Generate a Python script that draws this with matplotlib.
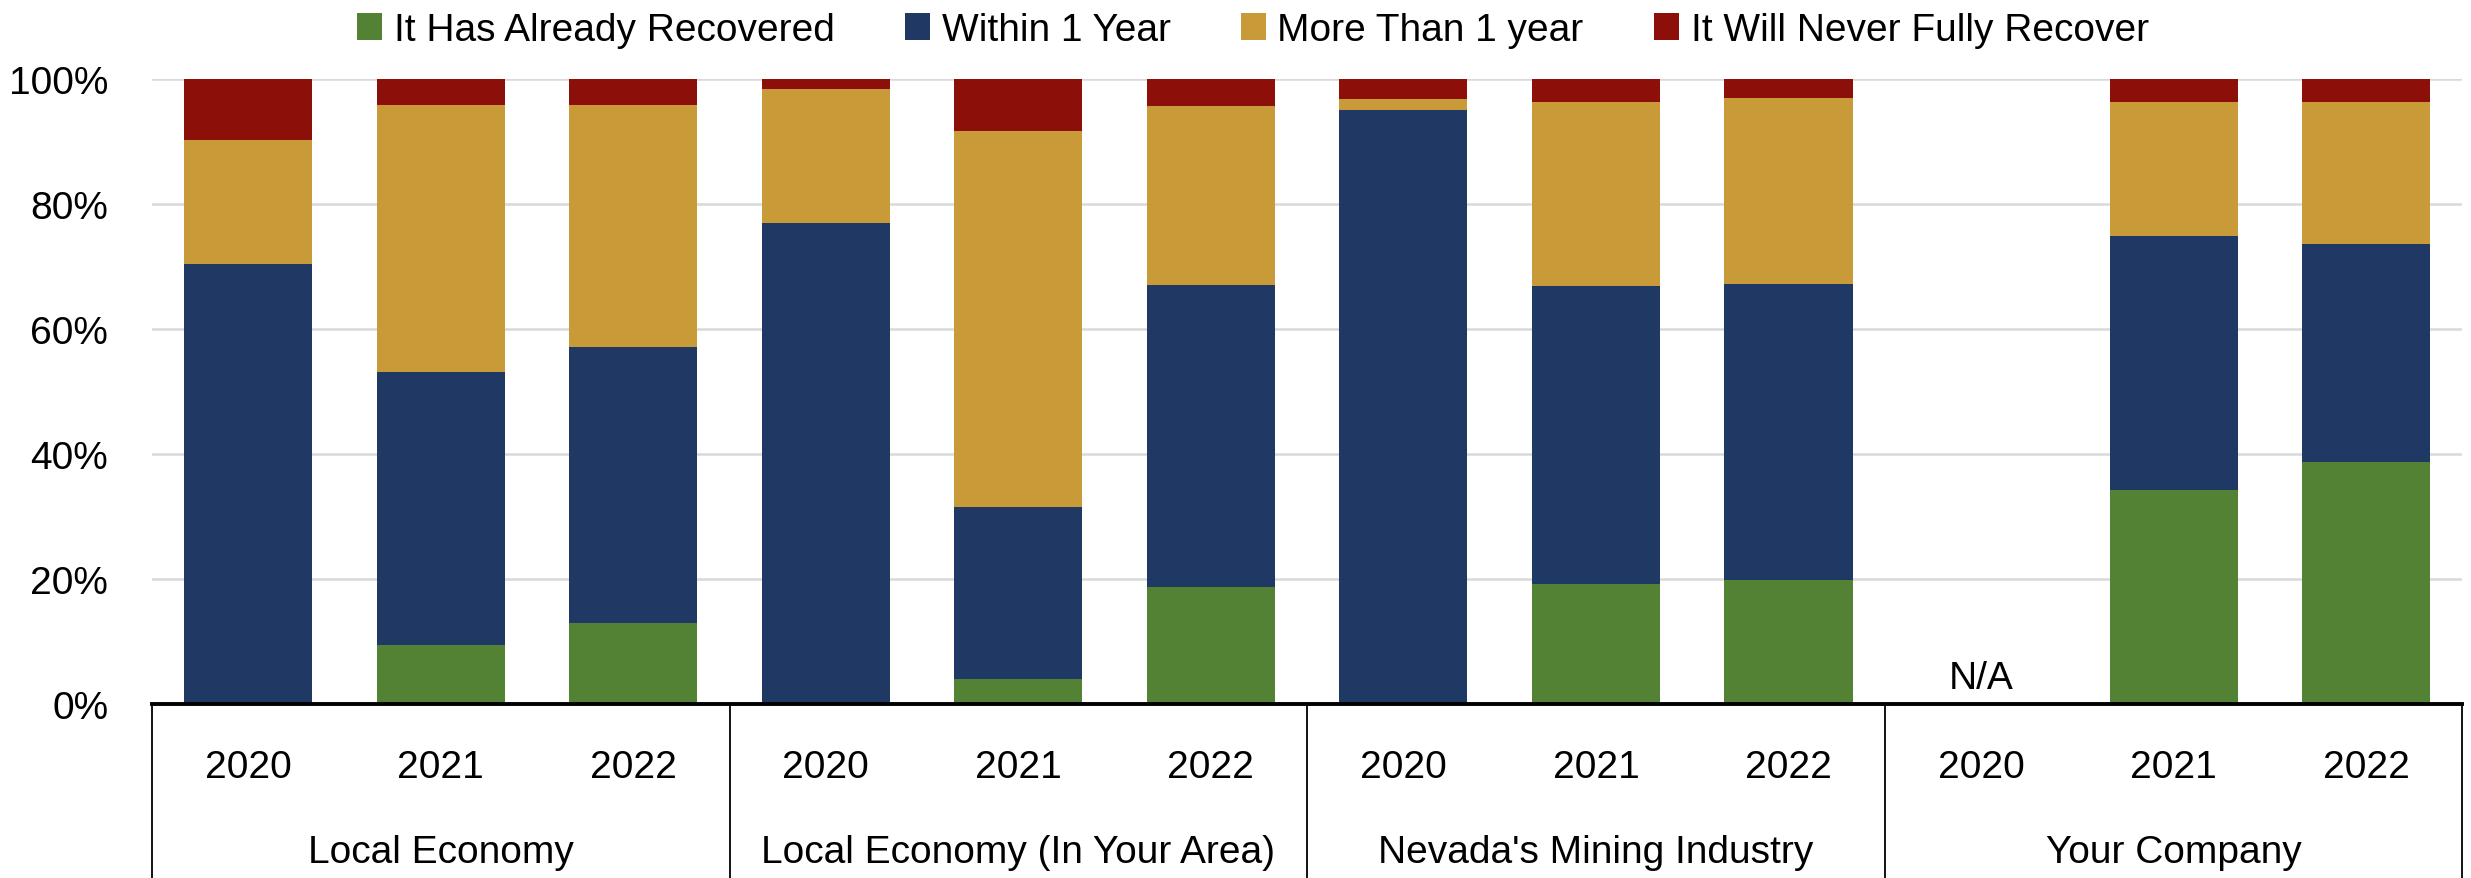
import numpy as np
import matplotlib
matplotlib.use("Agg")
import matplotlib.pyplot as plt
from matplotlib.patches import Patch


# reference uses a narrow Arial; Liberation Sans sized down to keep the text widths
plt.rcParams["font.family"] = ["Liberation Sans Narrow", "Liberation Sans", "DejaVu Sans"]

groups = ["Local Economy", "Local Economy (In Your Area)", "Nevada's Mining Industry", "Your Company"]
years = ["2020", "2021", "2022"]

# shares in percent, one value per bar (group x year), nan = no data
already_recovered = [0, 9.4, 12.9, 0, 4.0, 18.7, 0, 19.1, 19.7, np.nan, 34.2, 38.7]
within_1_year = [70.4, 43.7, 44.2, 77.0, 27.5, 48.3, 95.1, 47.8, 47.5, np.nan, 40.6, 34.9]
more_than_1_year = [19.8, 42.8, 38.7, 21.4, 60.2, 28.7, 1.7, 29.4, 29.7, np.nan, 21.5, 22.7]
never_recover = [9.8, 4.1, 4.2, 1.6, 8.3, 4.3, 3.2, 3.7, 3.1, np.nan, 3.7, 3.7]

series_names = ["It Has Already Recovered", "Within 1 Year", "More Than 1 year", "It Will Never Fully Recover"]
colors = ["#548235", "#203864", "#C99A38", "#8C0F0A"]

FS = 28


def main():
    fig = plt.figure(figsize=(24.71, 8.79), dpi=100)
    ax = fig.add_axes([0.0615, 0.1985, 0.935, 0.7105])

    series = [already_recovered, within_1_year, more_than_1_year, never_recover]
    x = np.arange(len(groups) * len(years))
    bottom = np.zeros(len(x))
    for vals, color in zip(series, colors):
        v = np.nan_to_num(np.array(vals, dtype=float))
        ax.bar(x, v, bottom=bottom, width=0.665, color=color, linewidth=0, zorder=3)
        bottom += v

    # N/A marker for missing bar
    for i, v in enumerate(within_1_year):
        if np.isnan(v):
            ax.text(i, 2.5, "N/A", ha="center", va="baseline", fontsize=FS)

    ax.set_xlim(-0.5, len(x) - 0.5)
    ax.set_ylim(0, 100)
    ax.set_yticks(np.arange(0, 101, 20))
    ax.set_yticklabels([f"{t}%" for t in range(0, 101, 20)], fontsize=FS)
    ax.tick_params(axis="y", length=0, pad=31.5)
    ax.set_xticks([])
    ax.grid(axis="y", color="#D9D9D9", linewidth=1.8, zorder=0)
    for s in ["left", "right", "top"]:
        ax.spines[s].set_visible(False)
    ax.spines["bottom"].set_linewidth(2.8)
    ax.spines["bottom"].set_zorder(4)

    # two-level category axis
    trans = ax.get_xaxis_transform()
    for i in x:
        ax.text(i, -0.1178, years[i % len(years)], transform=trans,
                ha="center", va="baseline", fontsize=FS)
    for g, name in enumerate(groups):
        center = g * len(years) + (len(years) - 1) / 2
        ax.text(center, -0.254, name, transform=trans,
                ha="center", va="baseline", fontsize=FS)
    for g in range(len(groups) + 1):
        xs = g * len(years) - 0.5
        ax.plot([xs, xs], [0, -0.28], transform=trans, color="black",
                linewidth=1.3, clip_on=False)

    handles = [Patch(facecolor=c, edgecolor="none") for c in colors]
    fig.legend(handles, series_names, loc="center", bbox_to_anchor=(0.507, 0.965),
               ncol=4, frameon=False, fontsize=FS, handlelength=0.65,
               handleheight=0.7, handletextpad=0.3, columnspacing=1.8,
               borderpad=0)

    fig.savefig("out.png", dpi=100)


if __name__ == "__main__":
    main()
